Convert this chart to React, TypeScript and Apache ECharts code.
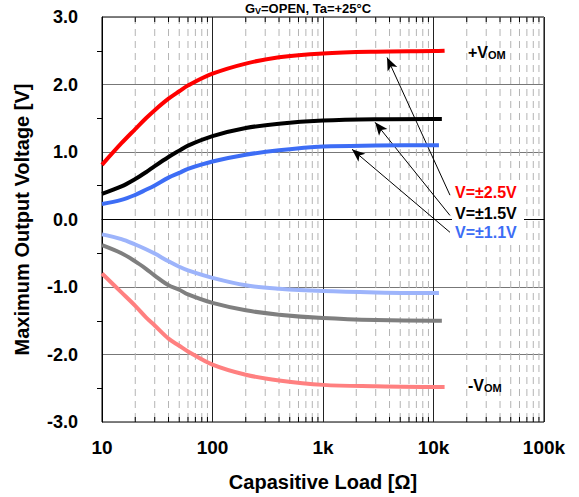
import React, { useEffect, useRef } from "react";
import * as echarts from "echarts";

const FONT = "'Liberation Sans', Arial, sans-serif";

const X_TICK_LABELS: Record<number, string> = { 10: "10", 100: "100", 1000: "1k", 10000: "10k", 100000: "100k" };
const Y_MIN = -3;
const Y_MAX = 3;

const POS_25: [number, number][] = [[10, 0.81], [15, 1.13], [20, 1.34], [25, 1.50], [30, 1.62], [40, 1.79], [50, 1.90], [60, 1.985], [100, 2.16], [200, 2.31], [400, 2.405], [1000, 2.46], [3000, 2.485], [10000, 2.495], [12600, 2.5]];
const POS_15: [number, number][] = [[10, 0.38], [15, 0.49], [20, 0.60], [25, 0.70], [30, 0.79], [40, 0.925], [50, 1.02], [60, 1.095], [100, 1.235], [200, 1.355], [400, 1.42], [1000, 1.465], [3000, 1.485], [10000, 1.49], [11900, 1.49]];
const POS_11: [number, number][] = [[10, 0.23], [15, 0.29], [20, 0.365], [25, 0.44], [30, 0.505], [40, 0.62], [50, 0.69], [60, 0.75], [100, 0.86], [200, 0.96], [400, 1.025], [1000, 1.08], [3000, 1.095], [10000, 1.10], [11200, 1.10]];
const NEG_11: [number, number][] = [[10, -0.22], [15, -0.29], [20, -0.37], [25, -0.44], [30, -0.505], [40, -0.62], [50, -0.70], [60, -0.755], [100, -0.865], [200, -0.975], [400, -1.025], [1000, -1.06], [3000, -1.08], [10000, -1.09], [11200, -1.09]];
const NEG_15: [number, number][] = [[10, -0.38], [15, -0.50], [20, -0.62], [25, -0.73], [30, -0.83], [40, -0.975], [50, -1.04], [60, -1.11], [100, -1.235], [200, -1.345], [400, -1.41], [1000, -1.46], [3000, -1.49], [10000, -1.50], [11900, -1.50]];
const NEG_25: [number, number][] = [[10, -0.80], [15, -1.08], [20, -1.28], [25, -1.45], [30, -1.57], [40, -1.765], [50, -1.87], [60, -1.955], [100, -2.15], [200, -2.30], [400, -2.385], [1000, -2.45], [3000, -2.47], [10000, -2.48], [12600, -2.48]];

// arrows: [tip, tail] in data coords
const ARROWS: [[number, number], [number, number]][] = [
  [[3800, 2.40], [14100, 0.36]],
  [[2960, 1.44], [14100, 0.06]],
  [[1830, 1.04], [14100, -0.19]],
];

const MINOR_MULT = [2, 3, 4, 5, 6, 7, 8, 9];
const DECADES = [10, 100, 1000, 10000];
const MINOR_X: number[] = [];
DECADES.forEach((d) => MINOR_MULT.forEach((m) => MINOR_X.push(d * m)));

export default function App() {
  const ref = useRef<HTMLDivElement>(null);
  useEffect(() => {
    if (!ref.current) return;
    const chart = echarts.init(ref.current, undefined, { renderer: "svg" });
    const lineSeries = (name: string, data: [number, number][], color: string) => ({
      name,
      type: "line",
      data,
      smooth: 0.35,
      showSymbol: false,
      symbol: "none",
      lineStyle: { color, width: 4 },
      z: 5,
    });
    chart.setOption({
      animation: false,
      backgroundColor: "#fff",
      grid: { left: 102, top: 17, right: 35, bottom: 75, show: true, borderColor: "#000", borderWidth: 1, containLabel: false },
      xAxis: {
        type: "log",
        logBase: 10,
        min: 10,
        max: 100000,
        name: "Capasitive Load [Ω]",
        nameLocation: "middle",
        nameGap: 50,
        nameTextStyle: { fontFamily: FONT, fontWeight: "bold", fontSize: 20, color: "#000" },
        axisLine: { show: true, lineStyle: { color: "#000" } },
        axisTick: { show: false },
        axisLabel: {
          margin: 16,
          fontFamily: FONT,
          fontWeight: "bold",
          fontSize: 19,
          color: "#000",
          formatter: (v: number) => X_TICK_LABELS[Math.round(v)] ?? "",
        },
        splitLine: { show: true, lineStyle: { color: "#222", width: 1 } },
      },
      yAxis: {
        type: "value",
        min: Y_MIN,
        max: Y_MAX,
        interval: 1,
        name: "Maximum Output Voltage [V]",
        nameLocation: "middle",
        nameGap: 70,
        nameTextStyle: { fontFamily: FONT, fontWeight: "bold", fontSize: 20, color: "#000" },
        axisLine: { show: true, lineStyle: { color: "#000" } },
        axisTick: { show: false },
        minorTick: { show: true, splitNumber: 2, length: 5, lineStyle: { color: "#000" } },
        axisLabel: {
          margin: 24,
          fontFamily: FONT,
          fontWeight: "bold",
          fontSize: 18,
          color: "#000",
          formatter: (v: number) => v.toFixed(1),
        },
        splitLine: { show: true, lineStyle: { color: "#777", width: 1 } },
      },
      series: [
        {
          type: "custom",
          data: MINOR_X.map((x) => [x, 0]),
          encode: { x: 0, y: 1 },
          silent: true,
          z: 1,
          renderItem: (params: any, api: any) => {
            const x = api.value(0);
            const top = api.coord([x, Y_MAX]);
            const bot = api.coord([x, Y_MIN]);
            return {
              type: "group",
              children: [
                { type: "line", shape: { x1: top[0], y1: top[1], x2: bot[0], y2: bot[1] }, style: { stroke: "#b4b4b4", lineWidth: 1, lineDash: [7, 5] } },
                { type: "line", shape: { x1: bot[0], y1: bot[1], x2: bot[0], y2: bot[1] - 5 }, style: { stroke: "#000", lineWidth: 1 } },
                { type: "line", shape: { x1: top[0], y1: top[1], x2: top[0], y2: top[1] + 5 }, style: { stroke: "#000", lineWidth: 1 } },
              ],
            };
          },
        },
        lineSeries("+2.5", POS_25, "#ff0000"),
        lineSeries("+1.5", POS_15, "#000000"),
        lineSeries("+1.1", POS_11, "#3d6df5"),
        lineSeries("-1.1", NEG_11, "#9db4fb"),
        lineSeries("-1.5", NEG_15, "#7f7f7f"),
        {
          ...lineSeries("-2.5", NEG_25, "#ff8080"),
          markLine: {
            silent: true,
            symbol: ["arrow", "none"],
            symbolSize: [8, 13],
            label: { show: false },
            lineStyle: { color: "#000", width: 1, type: "solid" },
            data: ARROWS.map(([tip, tail]) => [{ coord: tip }, { coord: tail }]),
          },
        },
      ],
      graphic: [
        {
          type: "text",
          x: 308,
          y: 1,
          style: {
            text: "{a|G}{s|V}{a|=OPEN, Ta=+25°C}",
            align: "center",
            verticalAlign: "top",
            rich: {
              a: { fontFamily: FONT, fontWeight: "bold", fontSize: 13, fill: "#000", lineHeight: 14, verticalAlign: "bottom" },
              s: { fontFamily: FONT, fontWeight: "bold", fontSize: 9, fill: "#000", lineHeight: 10, verticalAlign: "bottom" },
            },
          },
          z: 100,
        },
        {
          type: "text",
          x: 468,
          y: 51,
          style: {
            text: "{a|+V}{s|OM}",
            verticalAlign: "middle",
            rich: {
              a: { fontFamily: FONT, fontWeight: "bold", fontSize: 16, fill: "#000", lineHeight: 18, verticalAlign: "bottom" },
              s: { fontFamily: FONT, fontWeight: "bold", fontSize: 11, fill: "#000", lineHeight: 12, verticalAlign: "bottom" },
            },
          },
          z: 100,
        },
        {
          type: "text",
          x: 468,
          y: 384,
          style: {
            text: "{a|-V}{s|OM}",
            verticalAlign: "middle",
            rich: {
              a: { fontFamily: FONT, fontWeight: "bold", fontSize: 16, fill: "#000", lineHeight: 18, verticalAlign: "bottom" },
              s: { fontFamily: FONT, fontWeight: "bold", fontSize: 11, fill: "#000", lineHeight: 12, verticalAlign: "bottom" },
            },
          },
          z: 100,
        },
        {
          type: "rect",
          shape: { x: 452, y: 183, width: 72, height: 58 },
          style: { fill: "#fff" },
          z: 99,
        },
        {
          type: "text",
          x: 455,
          y: 192,
          style: { text: "V=±2.5V", fontFamily: FONT, fontWeight: "bold", fontSize: 16, fill: "#ff0000", verticalAlign: "middle" },
          z: 100,
        },
        {
          type: "text",
          x: 455,
          y: 213,
          style: { text: "V=±1.5V", fontFamily: FONT, fontWeight: "bold", fontSize: 16, fill: "#000", verticalAlign: "middle" },
          z: 100,
        },
        {
          type: "text",
          x: 455,
          y: 232,
          style: { text: "V=±1.1V", fontFamily: FONT, fontWeight: "bold", fontSize: 16, fill: "#3d6df5", verticalAlign: "middle" },
          z: 100,
        },
      ],
    });
    return () => chart.dispose();
  }, []);
  return <div ref={ref} style={{ position: "fixed", left: 0, top: 0, width: 579, height: 497 }} />;
}
